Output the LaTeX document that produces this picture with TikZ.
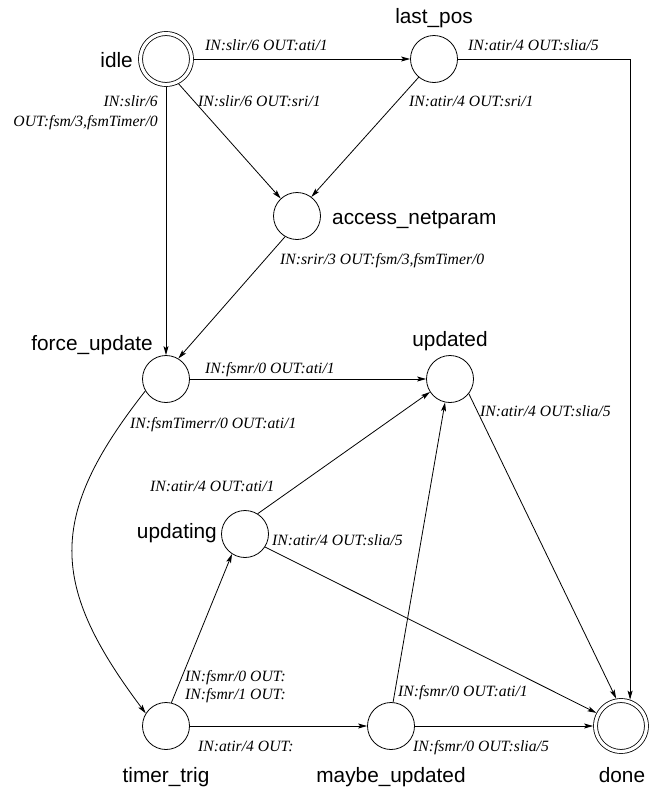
\documentclass[tikz,border=0pt]{standalone}
\usepackage{fontspec}
\setmainfont{Liberation Serif}
\setsansfont{Liberation Sans}
\usetikzlibrary{arrows.meta}
\begin{document}
\begin{tikzpicture}[x=1pt,y=-1pt,
  stnode/.style={circle,draw,line width=0.8pt,minimum size=47pt,inner sep=0pt},
  dblnode/.style={circle,draw,line width=0.8pt,minimum size=51pt,inner sep=0pt,double,double distance=3.2pt,outer sep=2.4pt},
  stname/.style={font=\sffamily\fontsize{20.8}{25}\selectfont, inner sep=0pt},
  tr/.style={font=\fontsize{15.7}{19}\selectfont\itshape, inner sep=0pt, anchor=base west},
  conn/.style={line width=0.8pt,-{Stealth[length=9pt,width=5pt,inset=2pt]}}
]
\useasboundingbox[fill=white] (0,0) rectangle (656,790);

% states
\node[dblnode] (idle) at (166,59) {};
\node[stnode] (lp) at (434,59) {};
\node[stnode] (an) at (297,216) {};
\node[stnode] (fu) at (166,379) {};
\node[stnode] (ud) at (450,379) {};
\node[stnode] (ug) at (245,534) {};
\node[stnode] (tt) at (166,726) {};
\node[stnode] (mu) at (391,726) {};
\node[dblnode] (done) at (621,726) {};

% state names
\node[stname, anchor=base east] (idleL) at (133,67) {idle};
\node[stname, anchor=base] (lpL) at (434,23) {last\_pos};
\node[stname, anchor=base west] (anL) at (332,224) {access\_netparam};
\node[stname, anchor=base east] (fuL) at (153,350) {force\_update};
\node[stname, anchor=base] (udL) at (450,346) {updated};
\node[stname, anchor=base east] (ugL) at (217,538) {updating};
\node[stname, anchor=base] (ttL) at (166,782) {timer\_trig};
\node[stname, anchor=base] (muL) at (391,782) {maybe\_updated};
\node[stname, anchor=base] (doneL) at (622,782) {done};

% connectors
\draw[conn] (idle) -- (lp);
\draw[conn] (idle.-63) -- (an.133);
\draw[conn] (idle) -- (fu);
\draw[conn] (lp.230) -- (an.53);
\draw[conn] (lp) -| (done.71);
\draw[conn] (an.240) -- (fu.59);
\draw[conn] (fu) -- (ud);
\draw[conn] (fu.210) .. controls +(-99,126) and +(-96,-128) .. (tt.148);
\draw[conn] (ug.58) -- (ud.213);
\draw[conn] (ug.-33) -- (done.152);
\draw[conn] (ud.-38) -- (done.100);
\draw[conn] (tt.77) -- (ug.237);
\draw[conn] (tt) -- (mu);
\draw[conn] (mu.85) -- (ud.-102);
\draw[conn] (mu) -- (done);

% transition labels
\node[tr] (l1) at (205,50) {IN:slir/6 OUT:ati/1};
\node[tr] (l2) at (198,106) {IN:slir/6 OUT:sri/1};
\node[tr, anchor=base east] (l3a) at (158,106) {IN:slir/6};
\node[tr, anchor=base east] (l3b) at (158,126) {OUT:fsm/3,fsmTimer/0};
\node[tr] (l4) at (409,106) {IN:atir/4 OUT:sri/1};
\node[tr] (l5) at (468,50) {IN:atir/4 OUT:slia/5};
\node[tr] (l6) at (280,264) {IN:srir/3 OUT:fsm/3,fsmTimer/0};
\node[tr] (l7) at (205,373) {IN:fsmr/0 OUT:ati/1};
\node[tr] (l8) at (130,428) {IN:fsmTimerr/0 OUT:ati/1};
\node[tr] (l9) at (150,491) {IN:atir/4 OUT:ati/1};
\node[tr] (l10) at (272,545) {IN:atir/4 OUT:slia/5};
\node[tr] (l11) at (480,416) {IN:atir/4 OUT:slia/5};
\node[tr] (l12a) at (185,681) {IN:fsmr/0 OUT:};
\node[tr] (l12b) at (185,699) {IN:fsmr/1 OUT:};
\node[tr] (l13) at (198,751) {IN:atir/4 OUT:};
\node[tr] (l14) at (398,696) {IN:fsmr/0 OUT:ati/1};
\node[tr] (l15) at (413,751) {IN:fsmr/0 OUT:slia/5};
\end{tikzpicture}
\end{document}
